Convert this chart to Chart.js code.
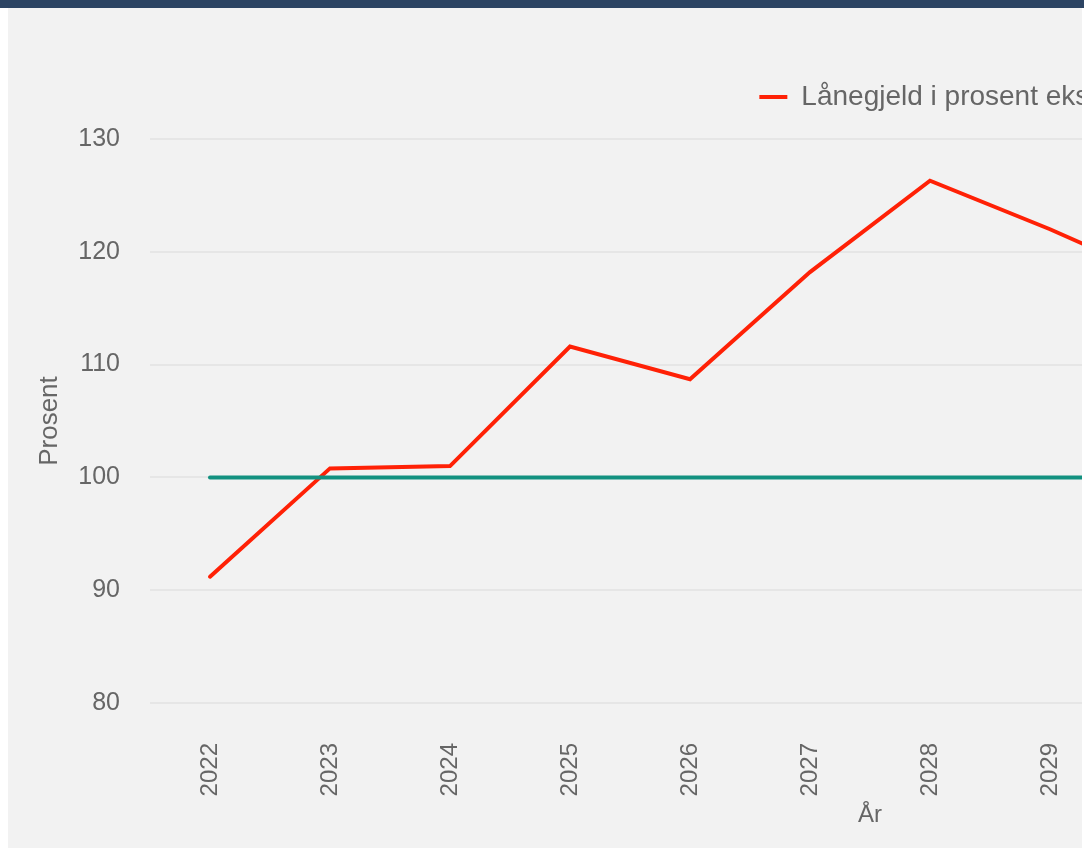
<!DOCTYPE html>
<html lang="no">
<head>
<meta charset="utf-8">
<title>Lånegjeld</title>
<script src="https://cdn.jsdelivr.net/npm/chart.js@4.4.1/dist/chart.umd.min.js"></script>
<style>
    body {
        margin: 0;
        background: #ffffff;
        font-family: "Liberation Sans", Arial, sans-serif;
    }
    .topbar {
        height: 8px;
        background: #2c4463;
    }
    .card {
        margin-left: 8px;
        width: 1074px;
        height: 840px;
        background: #f2f2f2;
        overflow: hidden;
    }
    .chart-wrap {
        position: relative;
        width: 1600px;
        height: 840px;
    }
</style>
</head>
<body>
<div class="topbar"></div>
<div class="card">
    <div class="chart-wrap">
        <canvas id="loanChart"></canvas>
    </div>
</div>

<script>
// Data
const years = ['2022', '2023', '2024', '2025', '2026', '2027', '2028', '2029', '2030', '2031', '2032', '2033'];
const loanDebtPct = [91.2, 100.8, 101.0, 111.6, 108.7, 118.2, 126.3, 122.0, 117.3, 114.0, 110.5, 107.0];
const limitPct = [100, 100, 100, 100, 100, 100, 100, 100, 100, 100, 100, 100];
const yTicks = [80, 90, 100, 110, 120, 130];

const labelLoan = 'Lånegjeld i prosent eks. pensjonsforpliktelser';
const labelLimit = 'Anbefalt nivå';

const fontFamily = '"Liberation Sans", Arial, sans-serif';

// extra room between the legend and the plot
const legendGap = {
    id: 'legendGap',
    beforeInit(chart) {
        const fitValue = chart.legend.fit;
        chart.legend.fit = function fit() {
            fitValue.bind(chart.legend)();
            this.height += 18;
        };
    }
};

document.addEventListener("DOMContentLoaded", function() {
    const ctx = document.getElementById("loanChart").getContext("2d");

    new Chart(ctx, {
        type: 'line',
        data: {
            labels: years,
            datasets: [{
                label: labelLoan,
                data: loanDebtPct,
                borderColor: '#ff2106',
                backgroundColor: '#ff2106',
                borderWidth: 4,
                borderCapStyle: 'round',
                tension: 0,
                pointRadius: 0,
                pointHoverRadius: 0,
                fill: false,
                order: 1
            }, {
                label: labelLimit,
                data: limitPct,
                borderColor: '#129180',
                backgroundColor: '#129180',
                borderWidth: 4,
                borderCapStyle: 'round',
                tension: 0,
                pointRadius: 0,
                pointHoverRadius: 0,
                fill: false,
                order: 0
            }]
        },
        options: {
            responsive: true,
            maintainAspectRatio: false,
            animation: false,
            layout: {
                padding: { top: 62, left: 22, right: 18, bottom: 14 }
            },
            plugins: {
                legend: {
                    position: 'top',
                    align: 'end',
                    labels: {
                        usePointStyle: true,
                        pointStyle: 'line',
                        pointStyleWidth: 28,
                        color: '#666666',
                        padding: 13,
                        font: { family: fontFamily, size: 28 },
                        sort: (a, b) => a.datasetIndex - b.datasetIndex
                    }
                },
                tooltip: { enabled: false }
            },
            scales: {
                x: {
                    offset: true,
                    grid: { display: false, drawTicks: false },
                    border: { display: false },
                    afterFit: function(scale) {
                        scale.height = 131;
                    },
                    ticks: {
                        color: '#666666',
                        minRotation: 90,
                        maxRotation: 90,
                        padding: 40,
                        font: { family: fontFamily, size: 24 }
                    },
                    title: {
                        display: true,
                        text: 'År',
                        color: '#666666',
                        padding: { top: 4, bottom: 4 },
                        font: { family: fontFamily, size: 24 }
                    }
                },
                y: {
                    min: yTicks[0],
                    max: yTicks[yTicks.length - 1],
                    grid: { color: '#e6e6e6', lineWidth: 2, drawTicks: false },
                    border: { display: false },
                    afterBuildTicks: function(scale) {
                        scale.ticks = yTicks.map(v => ({ value: v }));
                    },
                    afterFit: function(scale) {
                        scale.width = 120;
                    },
                    ticks: {
                        color: '#666666',
                        padding: 30,
                        font: { family: fontFamily, size: 25 }
                    },
                    title: {
                        display: true,
                        text: 'Prosent',
                        color: '#666666',
                        padding: { top: 4, bottom: 4 },
                        font: { family: fontFamily, size: 26 }
                    }
                }
            }
        },
        plugins: [legendGap]
    });
});
</script>
</body>
</html>
